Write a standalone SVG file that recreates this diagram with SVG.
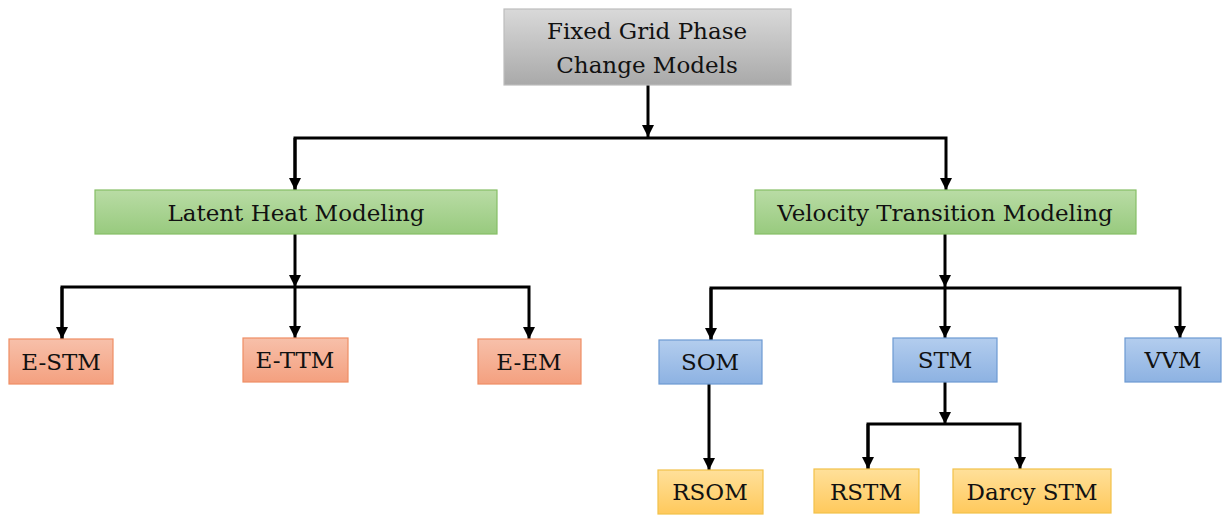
<svg xmlns="http://www.w3.org/2000/svg" width="1222" height="515" viewBox="0 0 1222 515">
<defs>
<linearGradient id="gGray" x1="0" y1="0" x2="0" y2="1"><stop offset="0" stop-color="#d9d9d9"/><stop offset="1" stop-color="#a9a9a9"/></linearGradient>
<linearGradient id="gGreen" x1="0" y1="0" x2="0" y2="1"><stop offset="0" stop-color="#b9dca5"/><stop offset="1" stop-color="#98ca7e"/></linearGradient>
<linearGradient id="gOrange" x1="0" y1="0" x2="0" y2="1"><stop offset="0" stop-color="#f7c0aa"/><stop offset="1" stop-color="#f4a07f"/></linearGradient>
<linearGradient id="gBlue" x1="0" y1="0" x2="0" y2="1"><stop offset="0" stop-color="#b3cdee"/><stop offset="1" stop-color="#8db2e2"/></linearGradient>
<linearGradient id="gYellow" x1="0" y1="0" x2="0" y2="1"><stop offset="0" stop-color="#ffe09a"/><stop offset="1" stop-color="#ffc95c"/></linearGradient>
<marker id="arr" markerUnits="userSpaceOnUse" markerWidth="14" markerHeight="14" viewBox="0 0 14 14" refX="12" refY="7" orient="auto">
<path d="M0,1 L12,7 L0,13 Z" fill="#000"/>
</marker>
</defs>
<style>
.t{font-family:"DejaVu Serif","Liberation Serif",serif;font-size:23px;fill:#111;text-anchor:middle}
.c{fill:none;stroke:#000;stroke-width:3}
.gray{fill:url(#gGray);stroke:#bdbdbd;stroke-width:1.2}
.green{fill:url(#gGreen);stroke:#86bf66;stroke-width:1.2}
.orange{fill:url(#gOrange);stroke:#ef8e64;stroke-width:1.2}
.blue{fill:url(#gBlue);stroke:#6d9ad2;stroke-width:1.2}
.yellow{fill:url(#gYellow);stroke:#f2c14a;stroke-width:1.2}
</style>
<rect width="1222" height="515" fill="#fff"/>
<g id="connectors">
<path class="c" d="M648,85 V137" marker-end="url(#arr)"/>
<path class="c" d="M295,190 V138 H946 V190" marker-end="url(#arr)"/>
<path class="c" d="M295,138 V190" marker-end="url(#arr)"/>
<path class="c" d="M295,234 V287" marker-end="url(#arr)"/>
<path class="c" d="M62,339 V287 H529 V339" marker-end="url(#arr)"/>
<path class="c" d="M62,287 V339" marker-end="url(#arr)"/>
<path class="c" d="M295,287 V338" marker-end="url(#arr)"/>
<path class="c" d="M945,234 V287" marker-end="url(#arr)"/>
<path class="c" d="M711,340 V288 H1180 V338" marker-end="url(#arr)"/>
<path class="c" d="M711,288 V340" marker-end="url(#arr)"/>
<path class="c" d="M945,288 V338" marker-end="url(#arr)"/>
<path class="c" d="M709,384 V470" marker-end="url(#arr)"/>
<path class="c" d="M945,382 V424" marker-end="url(#arr)"/>
<path class="c" d="M868,469 V424 H1020 V469" marker-end="url(#arr)"/>
<path class="c" d="M868,424 V469" marker-end="url(#arr)"/>
</g>
<g id="root"><rect class="gray" x="504" y="9" width="287" height="76"/><text class="t" x="647" y="39">Fixed Grid Phase</text><text class="t" x="647" y="73">Change Models</text></g>
<g id="latent"><rect class="green" x="95" y="190" width="402" height="44"/><text class="t" x="296" y="221">Latent Heat Modeling</text></g>
<g id="velocity"><rect class="green" x="755" y="190" width="381" height="44"/><text class="t" x="945" y="221">Velocity Transition Modeling</text></g>
<g id="estm"><rect class="orange" x="9" y="339" width="104" height="45"/><text class="t" x="61" y="370">E-STM</text></g>
<g id="ettm"><rect class="orange" x="243" y="338" width="105" height="44"/><text class="t" x="295" y="368">E-TTM</text></g>
<g id="eem"><rect class="orange" x="478" y="339" width="103" height="45"/><text class="t" x="529" y="370">E-EM</text></g>
<g id="som"><rect class="blue" x="659" y="340" width="103" height="44"/><text class="t" x="710" y="370">SOM</text></g>
<g id="stm"><rect class="blue" x="893" y="338" width="104" height="44"/><text class="t" x="945" y="368">STM</text></g>
<g id="vvm"><rect class="blue" x="1125" y="338" width="96" height="44"/><text class="t" x="1173" y="368">VVM</text></g>
<g id="rsom"><rect class="yellow" x="658" y="470" width="105" height="44"/><text class="t" x="710" y="500">RSOM</text></g>
<g id="rstm"><rect class="yellow" x="814" y="469" width="105" height="44"/><text class="t" x="866" y="500">RSTM</text></g>
<g id="darcy"><rect class="yellow" x="953" y="469" width="158" height="44"/><text class="t" x="1032" y="500">Darcy STM</text></g>
</svg>
